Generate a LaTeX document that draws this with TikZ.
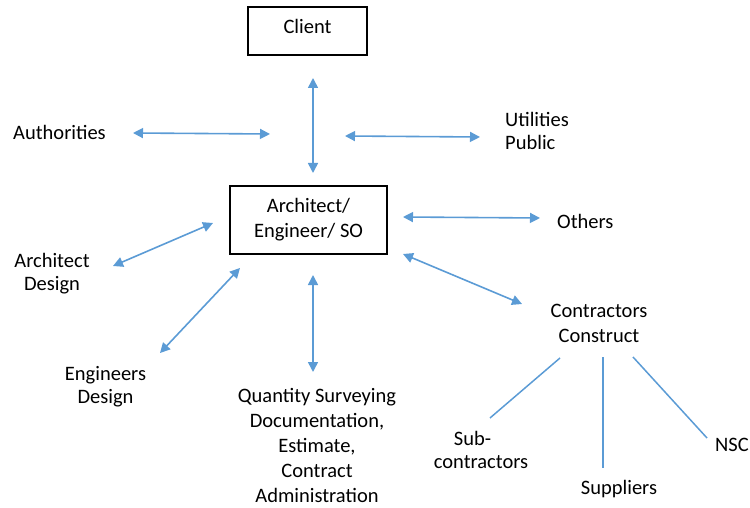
\documentclass[tikz,border=0pt]{standalone}
\usepackage{fontspec}
\setmainfont{Carlito}
\usetikzlibrary{arrows.meta}
\definecolor{link}{RGB}{91,155,213}
\begin{document}
\begin{tikzpicture}[x=1pt,y=-1pt,
  box/.style={draw=black,line width=1.5pt,inner sep=0pt,align=center,
    font=\fontsize{20.5}{25}\selectfont},
  lbl/.style={inner sep=0pt,align=center,font=\fontsize{20.5}{23}\selectfont},
  wide/.style={font=\fontsize{20.5}{25}\selectfont},
  twoway/.style={draw=link,line width=1.6pt,
    {Triangle[length=10pt,width=10pt]}-{Triangle[length=10pt,width=10pt]}},
  branch/.style={draw=link,line width=1.5pt}]
\useasboundingbox (0,0) rectangle (750,508);

% boxes
\node[box,minimum width=119pt,minimum height=48pt,text height=14pt,text depth=9pt]
  (client) at (307.5,31) {Client};
\node[box,minimum width=157pt,minimum height=68pt]
  (ase) at (308.5,220) {Architect/\\Engineer/ SO};

% labels (north anchor sits 15pt above the first baseline)
\node[lbl,anchor=north west] (auth) at (13,124) {\rule{0pt}{15pt}Authorities};
\node[lbl,align=left,anchor=north west] (util) at (505,111) {\rule{0pt}{15pt}Utilities\\Public};
\node[lbl,anchor=north west] (others) at (557,213) {\rule{0pt}{15pt}Others};
\node[lbl,anchor=north] (archd) at (52,252) {\rule{0pt}{15pt}Architect\\Design};
\node[lbl,anchor=north] (engd) at (105.5,365) {\rule{0pt}{15pt}Engineers\\Design};
\node[lbl,wide,anchor=north] (qs) at (317,387)
  {\rule{0pt}{15pt}Quantity Surveying\\Documentation,\\Estimate,\\Contract\\Administration};
\node[lbl,wide,anchor=north] (contr) at (599,302) {\rule{0pt}{15pt}Contractors\\Construct};
\node[lbl,anchor=north] (sub) at (481,430) {\rule{0pt}{15pt}Sub-\hspace*{17pt}\\contractors};
\node[lbl,anchor=north] (supp) at (619,479) {\rule{0pt}{15pt}Suppliers};
\node[lbl,anchor=north west] (nsc) at (715,436) {\rule{0pt}{15pt}NSC};

% arrow ends
\coordinate (client-s) at (313,78);
\coordinate (ase-n) at (313,173);
\coordinate (auth-e) at (133,133);
\coordinate (ase-nw) at (270,134);
\coordinate (ase-ne) at (345,136);
\coordinate (util-w) at (480,137);
\coordinate (ase-e) at (403,217);
\coordinate (others-w) at (540,218);
\coordinate (ase-se) at (403,254);
\coordinate (contr-nw) at (522,304);
\coordinate (ase-w) at (213,223);
\coordinate (archd-e) at (113,266);
\coordinate (ase-sw) at (240,268);
\coordinate (engd-ne) at (160,353);
\coordinate (ase-s) at (313,275);
\coordinate (qs-n) at (313,372);
\coordinate (contr-sw) at (560,358);
\coordinate (sub-n) at (490,418);
\coordinate (contr-s) at (603,357);
\coordinate (supp-n) at (603,468);
\coordinate (contr-se) at (633,357);
\coordinate (nsc-n) at (707,438);

% two-way links
\draw[twoway] (client-s) -- (ase-n);
\draw[twoway] (auth-e) -- (ase-nw);
\draw[twoway] (ase-ne) -- (util-w);
\draw[twoway] (ase-e) -- (others-w);
\draw[twoway] (ase-se) -- (contr-nw);
\draw[twoway] (ase-w) -- (archd-e);
\draw[twoway] (ase-sw) -- (engd-ne);
\draw[twoway] (ase-s) -- (qs-n);

% contractor branches
\draw[branch] (contr-sw) -- (sub-n);
\draw[branch] (contr-s) -- (supp-n);
\draw[branch] (contr-se) -- (nsc-n);
\end{tikzpicture}
\end{document}
